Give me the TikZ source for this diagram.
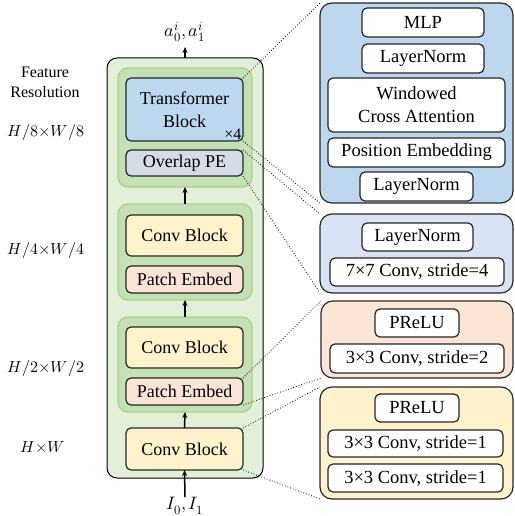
\documentclass[tikz,border=0pt]{standalone}
\usepackage{fontspec}
\usepackage{unicode-math}
\setmainfont{Liberation Serif}
\usetikzlibrary{arrows.meta}

\definecolor{bgGreen}{HTML}{E2F0D9}
\definecolor{grpGreen}{HTML}{C5E0B4}
\definecolor{grpEdge}{HTML}{A9D18E}
\definecolor{tfBlue}{HTML}{BDD7EE}
\definecolor{peGray}{HTML}{D6DCE5}
\definecolor{peBlue}{HTML}{DAE3F3}
\definecolor{convYellow}{HTML}{FFF2CC}
\definecolor{patchPeach}{HTML}{FBE5D6}
\definecolor{edgeDark}{HTML}{262626}

% \boxfrom{name}{x1}{y1}{x2}{y2}{style}{text}
\newcommand\boxfrom[7]{%
  \node[#6, inner sep=0pt, outer sep=0pt,
        minimum width={(#4-#2)*1pt}, minimum height={(#5-#3)*1pt}]
       (#1) at ({(#2+#4)/2},{(#3+#5)/2}) {#7};}

\begin{document}
\begin{tikzpicture}[x=1pt,y=-1pt,
  outerbox/.style={draw=black, line width=1pt, fill=bgGreen, rounded corners=10pt},
  grp/.style={draw=grpEdge, line width=1.3pt, fill=grpGreen, rounded corners=10pt},
  blk/.style={draw=edgeDark, line width=1.2pt, rounded corners=5pt, align=center,
              font=\fontsize{18}{23}\selectfont},
  panel/.style={draw=edgeDark, line width=1.2pt, rounded corners=12pt},
  item/.style={draw=edgeDark, fill=white, line width=1.2pt, rounded corners=5pt,
               align=center, font=\fontsize{18.5}{23}\selectfont},
  reslab/.style={font=\fontsize{16}{20}\selectfont, align=center, inner sep=0pt},
  flow/.style={-{Stealth[length=6pt,width=5pt]}, line width=1.5pt},
  zoomline/.style={dotted, line width=0.8pt}]

\useasboundingbox (0,0) rectangle (514,516);

% ---- encoder column ----
\boxfrom{outer}{107}{58}{263}{478}{outerbox}{}

\boxfrom{g1}{118}{68}{252}{187}{grp}{}
\boxfrom{tb}{126}{78}{243}{141}{blk, fill=tfBlue}{Transformer\\Block}
\boxfrom{ope}{126}{150}{243}{176}{blk, fill=peGray}{Overlap PE}
\node[anchor=south east, inner sep=1.5pt, font=\fontsize{16}{18}\selectfont]
  (rep) at (tb.south east) {×4};

\boxfrom{g2}{118}{204}{252}{300}{grp}{}
\boxfrom{cb2}{126}{215}{243}{256}{blk, fill=convYellow}{Conv Block}
\boxfrom{pe2}{126}{266}{243}{293}{blk, fill=patchPeach}{Patch Embed}

\boxfrom{g3}{118}{317}{252}{412}{grp}{}
\boxfrom{cb3}{126}{327}{243}{368}{blk, fill=convYellow}{Conv Block}
\boxfrom{pe3}{126}{378}{243}{405}{blk, fill=patchPeach}{Patch Embed}

\boxfrom{cb4}{126}{428}{243}{470}{blk, fill=convYellow}{Conv Block}

% inputs and outputs
\node[font=\fontsize{18}{20}\selectfont] (alab) at (185,32) {$a_0^i, a_1^i$};
\coordinate (atip) at (185,47);
\node[font=\fontsize{18}{20}\selectfont, inner sep=0pt] (ilab) at (185,506) {$I_0, I_1$};
\coordinate (ibase) at (185,497);

\draw[flow] (outer.north) -- (atip);
\draw[flow] (g2.north) -- (g1.south);
\draw[flow] (g3.north) -- (g2.south);
\draw[flow] (cb4.north) -- (g3.south);
\draw[flow] (ibase) -- (cb4.south);

% feature resolution labels
\node[reslab] (frlab) at (45,82) {Feature\\Resolution};
\node[reslab] (r8) at (46,132) {$H/8{×}W/8$};
\node[reslab] (r4) at (46,250) {$H/4{×}W/4$};
\node[reslab] (r2) at (46,368) {$H/2{×}W/2$};
\node[reslab] (r1) at (43,447) {$H{×}W$};

% ---- detail panels ----
\boxfrom{p1}{320}{3}{513}{203}{panel, fill=tfBlue}{}
\boxfrom{mlp}{362}{8}{484}{37}{item}{MLP}
\boxfrom{ln1}{362}{44}{484}{73}{item}{LayerNorm}
\boxfrom{wca}{328}{78}{505}{132}{item}{Windowed\\Cross Attention}
\boxfrom{pos}{328}{138}{505}{167}{item}{Position Embedding}
\boxfrom{ln2}{360}{172}{473}{201}{item}{LayerNorm}

\boxfrom{p2}{320}{214}{513}{293}{panel, fill=peBlue}{}
\boxfrom{ln3}{362}{223}{473}{251}{item}{LayerNorm}
\boxfrom{c7}{330}{258}{504}{286}{item}{7×7 Conv, stride=4}

\boxfrom{p3}{321}{301}{513}{378}{panel, fill=patchPeach}{}
\boxfrom{pr1}{375}{309}{459}{337}{item}{PReLU}
\boxfrom{cs2}{330}{344}{504}{373}{item}{3×3 Conv, stride=2}

\boxfrom{p4}{320}{387}{513}{499}{panel, fill=convYellow}{}
\boxfrom{pr2}{375}{394}{459}{422}{item}{PReLU}
\boxfrom{csa}{328}{430}{503}{457}{item}{3×3 Conv, stride=1}
\boxfrom{csb}{328}{464}{503}{492}{item}{3×3 Conv, stride=1}

% ---- zoom-in guides ----
\draw[zoomline] (tb.north east) -- (p1.north west);
\draw[zoomline] (tb.south east) -- (p1.south west);
\draw[zoomline] (ope.north east) -- (p2.north west);
\draw[zoomline] (ope.south east) -- (p2.south west);
\draw[zoomline] (pe3.north east) -- (p3.north west);
\draw[zoomline] (pe3.south east) -- (p3.south west);
\draw[zoomline] (cb4.north east) -- (p4.north west);
\draw[zoomline] (cb4.south east) -- (p4.south west);
\end{tikzpicture}
\end{document}
